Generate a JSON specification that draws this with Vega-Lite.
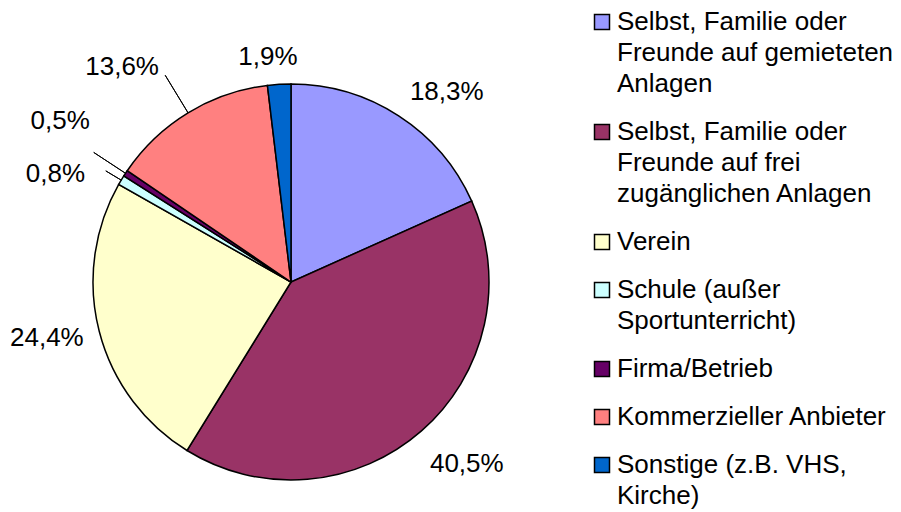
{
  "$schema": "https://vega.github.io/schema/vega-lite/v6.json",
  "width": 396,
  "height": 396,
  "autosize": "none",
  "padding": {"left": 93, "top": 84, "right": 412, "bottom": 32},
  "background": "white",
  "config": {"view": {"stroke": null}, "font": "Liberation Sans"},
  "data": {
    "values": [
      {"cat": "Selbst, Familie oder Freunde auf gemieteten Anlagen", "pct": 18.3, "label": "18,3%", "ord": 1},
      {"cat": "Selbst, Familie oder Freunde auf frei zugänglichen Anlagen", "pct": 40.5, "label": "40,5%", "ord": 2},
      {"cat": "Verein", "pct": 24.4, "label": "24,4%", "ord": 3},
      {"cat": "Schule (außer Sportunterricht)", "pct": 0.8, "label": "0,8%", "ord": 4},
      {"cat": "Firma/Betrieb", "pct": 0.5, "label": "0,5%", "ord": 5},
      {"cat": "Kommerzieller Anbieter", "pct": 13.6, "label": "13,6%", "ord": 6},
      {"cat": "Sonstige (z.B. VHS, Kirche)", "pct": 1.9, "label": "1,9%", "ord": 7}
    ]
  },
  "transform": [
    {"window": [{"op": "sum", "field": "pct", "as": "cum"}], "sort": [{"field": "ord"}], "frame": [null, 0]},
    {"calculate": "datum.cum - datum.pct / 2", "as": "mid"}
  ],
  "layer": [
    {
      "mark": {"type": "arc", "stroke": "black", "strokeWidth": 1.5, "radius": 198},
      "encoding": {
        "theta": {"field": "pct", "type": "quantitative", "stack": true, "scale": {"domain": [0, 100]}},
        "order": {"field": "ord", "type": "quantitative"},
        "color": {
          "field": "cat",
          "type": "nominal",
          "sort": null,
          "scale": {
            "domain": [
              "Selbst, Familie oder Freunde auf gemieteten Anlagen",
              "Selbst, Familie oder Freunde auf frei zugänglichen Anlagen",
              "Verein",
              "Schule (außer Sportunterricht)",
              "Firma/Betrieb",
              "Kommerzieller Anbieter",
              "Sonstige (z.B. VHS, Kirche)"
            ],
            "range": ["#9999FF", "#993366", "#FFFFCC", "#CCFFFF", "#660066", "#FF8080", "#0066CC"]
          },
          "legend": {
            "orient": "none",
            "legendX": 496,
            "legendY": -75,
            "title": null,
            "symbolType": "square",
            "symbolSize": 225,
            "symbolStrokeColor": "black",
            "symbolStrokeWidth": 1.5,
            "symbolOpacity": 1,
            "labelFontSize": 26,
            "labelFont": "Liberation Sans",
            "labelColor": "black",
            "labelBaseline": "top",
            "labelOffset": 2,
            "rowPadding": 22,
            "labelLimit": 400,
            "labelExpr": "datum.label == 'Selbst, Familie oder Freunde auf gemieteten Anlagen' ? ['Selbst, Familie oder', 'Freunde auf gemieteten', 'Anlagen'] : datum.label == 'Selbst, Familie oder Freunde auf frei zugänglichen Anlagen' ? ['Selbst, Familie oder', 'Freunde auf frei', 'zugänglichen Anlagen'] : datum.label == 'Schule (außer Sportunterricht)' ? ['Schule (außer', 'Sportunterricht)'] : datum.label == 'Sonstige (z.B. VHS, Kirche)' ? ['Sonstige (z.B. VHS,', 'Kirche)'] : datum.label",
            "encode": {"labels": {"update": {"lineHeight": {"value": 31}, "dy": {"value": -13}}}}
          }
        }
      }
    },
    {
      "transform": [{"filter": "datum.ord == 4"}],
      "mark": {"type": "arc", "filled": false, "stroke": "black", "strokeWidth": 1, "radius": 198, "radius2": 216},
      "encoding": {
        "theta": {"field": "mid", "type": "quantitative", "stack": null, "scale": {"domain": [0, 100]}},
        "theta2": {"field": "mid"}
      }
    },
    {
      "transform": [{"filter": "datum.ord == 5"}],
      "mark": {"type": "arc", "filled": false, "stroke": "black", "strokeWidth": 1, "radius": 198, "radius2": 236},
      "encoding": {
        "theta": {"field": "mid", "type": "quantitative", "stack": null, "scale": {"domain": [0, 100]}},
        "theta2": {"field": "mid"}
      }
    },
    {
      "transform": [{"filter": "datum.ord == 6"}],
      "mark": {"type": "arc", "filled": false, "stroke": "black", "strokeWidth": 1, "radius": 198, "radius2": 242},
      "encoding": {
        "theta": {"field": "mid", "type": "quantitative", "stack": null, "scale": {"domain": [0, 100]}},
        "theta2": {"field": "mid"}
      }
    },
    {
      "transform": [{"filter": "datum.ord == 1"}],
      "mark": {"type": "text", "align": "left", "baseline": "middle", "radius": 226, "dx": -4, "fontSize": 26, "font": "Liberation Sans", "color": "black"},
      "encoding": {
        "theta": {"field": "mid", "type": "quantitative", "stack": null, "scale": {"domain": [0, 100]}},
        "text": {"field": "label"}
      }
    },
    {
      "transform": [{"filter": "datum.ord == 2"}],
      "mark": {"type": "text", "align": "left", "baseline": "middle", "radius": 226, "dx": -10, "dy": 12, "fontSize": 26, "font": "Liberation Sans", "color": "black"},
      "encoding": {
        "theta": {"field": "mid", "type": "quantitative", "stack": null, "scale": {"domain": [0, 100]}},
        "text": {"field": "label"}
      }
    },
    {
      "transform": [{"filter": "datum.ord == 3"}],
      "mark": {"type": "text", "align": "right", "baseline": "middle", "radius": 214, "dy": 3, "fontSize": 26, "font": "Liberation Sans", "color": "black"},
      "encoding": {
        "theta": {"field": "mid", "type": "quantitative", "stack": null, "scale": {"domain": [0, 100]}},
        "text": {"field": "label"}
      }
    },
    {
      "transform": [{"filter": "datum.ord == 4"}],
      "mark": {"type": "text", "align": "right", "baseline": "middle", "radius": 232, "dx": -7, "dy": 11, "fontSize": 26, "font": "Liberation Sans", "color": "black"},
      "encoding": {
        "theta": {"field": "mid", "type": "quantitative", "stack": null, "scale": {"domain": [0, 100]}},
        "text": {"field": "label"}
      }
    },
    {
      "transform": [{"filter": "datum.ord == 5"}],
      "mark": {"type": "text", "align": "right", "baseline": "middle", "radius": 255, "dx": 12, "dy": -21, "fontSize": 26, "font": "Liberation Sans", "color": "black"},
      "encoding": {
        "theta": {"field": "mid", "type": "quantitative", "stack": null, "scale": {"domain": [0, 100]}},
        "text": {"field": "label"}
      }
    },
    {
      "transform": [{"filter": "datum.ord == 6"}],
      "mark": {"type": "text", "align": "right", "baseline": "middle", "radius": 254, "dy": 2, "fontSize": 26, "font": "Liberation Sans", "color": "black"},
      "encoding": {
        "theta": {"field": "mid", "type": "quantitative", "stack": null, "scale": {"domain": [0, 100]}},
        "text": {"field": "label"}
      }
    },
    {
      "transform": [{"filter": "datum.ord == 7"}],
      "mark": {"type": "text", "align": "center", "baseline": "bottom", "radius": 218, "dx": -10, "dy": 6, "fontSize": 26, "font": "Liberation Sans", "color": "black"},
      "encoding": {
        "theta": {"field": "mid", "type": "quantitative", "stack": null, "scale": {"domain": [0, 100]}},
        "text": {"field": "label"}
      }
    }
  ]
}
